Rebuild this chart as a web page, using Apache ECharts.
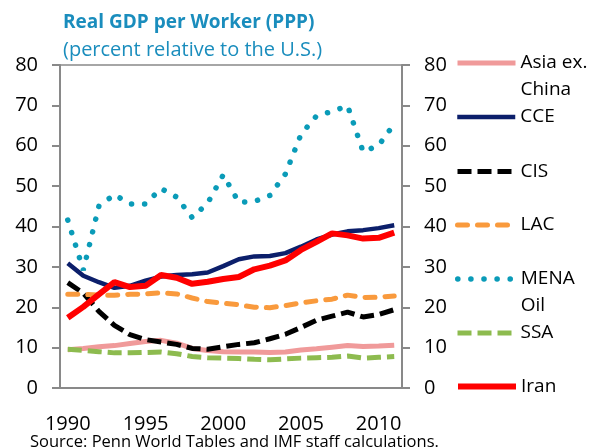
<!DOCTYPE html>
<html>
<head>
<meta charset="utf-8">
<script src="https://cdn.jsdelivr.net/npm/echarts@6/dist/echarts.min.js"></script>
<style>
html, body { margin: 0; padding: 0; background: #fff; }
#chart { width: 591px; height: 448px; }
</style>
</head>
<body>
<div id="chart"></div>
<script>
// 数据
var years = ['1990', '1991', '1992', '1993', '1994', '1995', '1996', '1997', '1998', '1999', '2000',
             '2001', '2002', '2003', '2004', '2005', '2006', '2007', '2008', '2009', '2010', '2011'];
var asia = [9.5, 9.8, 10.2, 10.5, 11.0, 11.5, 11.8, 11.1, 9.8, 9.3, 9.0, 8.9, 8.9, 8.8, 8.9, 9.4, 9.7, 10.1, 10.5, 10.3, 10.4, 10.6];
var cce  = [30.9, 27.8, 26.2, 24.8, 25.3, 26.6, 27.6, 28.0, 28.2, 28.6, 30.2, 31.9, 32.6, 32.7, 33.4, 35.0, 36.8, 38.0, 38.8, 39.1, 39.6, 40.3];
var cis  = [26.1, 23.5, 19.0, 15.5, 13.2, 12.0, 11.4, 10.8, 9.8, 9.6, 10.2, 10.8, 11.2, 12.2, 13.3, 15.0, 16.8, 17.8, 18.8, 17.6, 18.2, 19.4];
var lac  = [23.2, 23.2, 23.0, 23.0, 23.2, 23.3, 23.6, 23.3, 22.3, 21.4, 21.0, 20.6, 20.0, 19.9, 20.4, 21.1, 21.6, 22.0, 23.0, 22.4, 22.5, 22.8];
var mena = [41.6, 29.2, 45.0, 47.9, 45.6, 45.6, 49.4, 47.3, 42.2, 45.8, 52.8, 46.0, 46.2, 47.7, 53.0, 62.8, 67.4, 68.5, 69.9, 58.5, 60.1, 65.4];
var ssa  = [9.6, 9.3, 9.0, 8.7, 8.7, 8.8, 8.9, 8.5, 7.8, 7.5, 7.4, 7.3, 7.1, 7.0, 7.2, 7.4, 7.5, 7.6, 7.9, 7.4, 7.6, 7.8];
var iran = [17.4, 20.1, 23.2, 26.2, 25.0, 25.3, 28.0, 27.3, 25.8, 26.3, 27.0, 27.5, 29.4, 30.3, 31.6, 34.2, 36.2, 38.3, 37.8, 37.0, 37.2, 38.5];

var seriesNames  = ['Asia ex. China', 'CCE', 'CIS', 'LAC', 'MENA Oil', 'SSA', 'Iran'];
// 两行的图例文字前面加一个空行，让第一行和线条对齐
var legendLabels = [' \nAsia ex.\nChina', 'CCE', 'CIS', 'LAC', ' \nMENA\nOil', 'SSA', 'Iran'];
var legendY = [63, 117, 171.5, 225, 279, 333, 386.5];

var font = 'Open Sans';
var axisGray = '#898989';

var styles = [
  { color: '#f09a9a', width: 5 },
  { color: '#0c1f6b', width: 4.5 },
  { color: '#000000', width: 5, type: [14, 6] },
  { color: '#f99a3d', width: 5, type: [10, 10], cap: 'round' },
  { color: '#0a9bb8', width: 5.5, type: [0.1, 13], cap: 'round' },
  { color: '#8dbb4f', width: 5, type: [14, 6] },
  { color: '#ff0000', width: 6 }
];
var values = [asia, cce, cis, lac, mena, ssa, iran];

var myChart = echarts.init(document.getElementById('chart'));

function yAxis(pos) {
  return {
    type: 'value',
    position: pos,
    min: 0,
    max: 80,
    interval: 10,
    splitLine: { show: false },
    axisLine: { show: true, lineStyle: { color: axisGray, width: 2 } },
    axisTick: { show: true, length: 8, lineStyle: { color: axisGray, width: 2 } },
    axisLabel: { color: '#000', fontSize: 20, fontFamily: font, margin: 22 }
  };
}

function lineStyleOf(s) {
  return { color: s.color, width: s.width, type: s.type || 'solid', cap: s.cap || 'butt' };
}

var legends = seriesNames.map(function (name, i) {
  var threeLine = legendLabels[i].indexOf('\n') >= 0;
  return {
    data: [name],
    left: 455,
    top: legendY[i] - (threeLine ? 40.5 : 13.5),
    padding: 0,
    itemWidth: 58,
    itemHeight: 14,
    selectedMode: false,
    itemStyle: { opacity: 0 },
    lineStyle: lineStyleOf(styles[i]),
    formatter: function () { return legendLabels[i]; },
    textStyle: { color: '#000', fontSize: 19, fontFamily: font, lineHeight: 27 }
  };
});

var series = seriesNames.map(function (name, i) {
  return {
    name: name,
    type: 'line',
    data: values[i],
    symbol: 'none',
    lineStyle: lineStyleOf(styles[i]),
    itemStyle: { color: styles[i].color },
    emphasis: { disabled: true }
  };
});

option = {
  animation: false,
  title: [
    { text: 'Real GDP per Worker (PPP)', left: 58, top: 8,
      textStyle: { color: '#1a8dbd', fontSize: 19, fontWeight: 'bold', fontFamily: font } },
    { text: '(percent relative to the U.S.)', left: 58, top: 35,
      textStyle: { color: '#1a8dbd', fontSize: 20, fontWeight: 'normal', fontFamily: font } },
    { text: 'Source: Penn World Tables and IMF staff calculations.', left: 25, top: 429,
      textStyle: { color: '#000', fontSize: 16.5, fontWeight: 'normal', fontFamily: font } }
  ],
  legend: legends,
  grid: { left: 60, right: 189, top: 65, bottom: 60, show: true, borderColor: axisGray, borderWidth: 1.5 },
  xAxis: {
    type: 'category',
    data: years,
    boundaryGap: true,
    axisLine: { show: true, lineStyle: { color: axisGray, width: 2 } },
    axisTick: { show: false },
    axisLabel: { color: '#000', fontSize: 20, fontFamily: font, interval: 4, margin: 26 }
  },
  yAxis: [yAxis('left'), yAxis('right')],
  series: series
};

myChart.setOption(option);
</script>
</body>
</html>
